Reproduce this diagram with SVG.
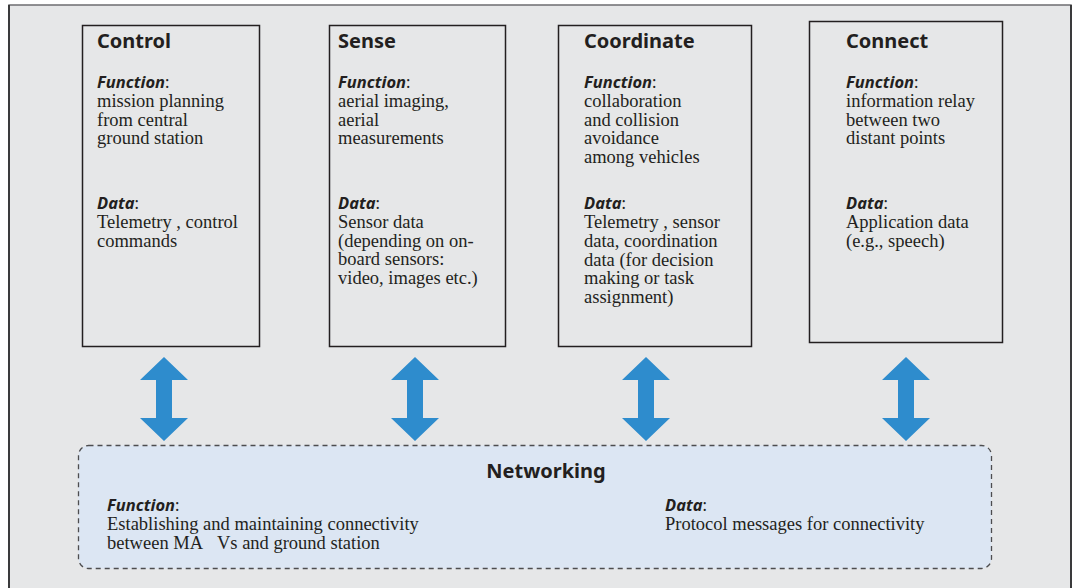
<svg xmlns="http://www.w3.org/2000/svg" width="1075" height="588" viewBox="0 0 1075 588">
<defs>
<style>
.box{fill:none;stroke:#231f20;stroke-width:1.5}
.title{font-family:"Noto Sans","Open Sans",sans-serif;font-weight:700;font-size:20px;fill:#231f20}
.lab{font-family:"Noto Sans","Open Sans",sans-serif;font-weight:700;font-style:italic;font-size:16.5px;fill:#231f20}
.lab tspan.c{font-weight:400;font-style:normal}
.body{font-family:"Liberation Serif","Times New Roman",serif;font-size:18.5px;fill:#231f20}
.arr{fill:#2e8ccd}
</style>
<path id="dbl" d="M0,0 L24,23 L8,23 L8,61 L24,61 L0,84 L-24,61 L-8,61 L-8,23 L-24,23 Z"/>
</defs>
<rect x="0" y="0" width="1075" height="588" fill="#ffffff"/>
<rect x="9" y="5" width="1062" height="590" fill="#e6e7e8" stroke="#6d6e70" stroke-width="1.5"/>
<line x1="9" y1="5" x2="9" y2="588" stroke="#3a3a3c" stroke-width="2"/>
<line x1="1071" y1="5" x2="1071" y2="588" stroke="#3a3a3c" stroke-width="2"/>

<g id="control">
<rect class="box" x="82.5" y="25.5" width="177" height="321"/>
<text class="title" x="97" y="48">Control</text>
<text class="lab" x="97" y="88">Function<tspan class="c">:</tspan></text>
<text class="body"><tspan x="97" y="107">mission planning</tspan><tspan x="97" y="126">from central</tspan><tspan x="97" y="144">ground station</tspan></text>
<text class="lab" x="97" y="209">Data<tspan class="c">:</tspan></text>
<text class="body"><tspan x="97" y="228">Telemetry , control</tspan><tspan x="97" y="247">commands</tspan></text>
</g>

<g id="sense">
<rect class="box" x="329.5" y="25.5" width="176" height="321"/>
<text class="title" x="338" y="48">Sense</text>
<text class="lab" x="338" y="88">Function<tspan class="c">:</tspan></text>
<text class="body"><tspan x="338" y="107">aerial imaging,</tspan><tspan x="338" y="126">aerial</tspan><tspan x="338" y="144">measurements</tspan></text>
<text class="lab" x="338" y="209">Data<tspan class="c">:</tspan></text>
<text class="body"><tspan x="338" y="228">Sensor data</tspan><tspan x="338" y="247">(depending on on-</tspan><tspan x="338" y="265">board sensors:</tspan><tspan x="338" y="284">video, images etc.)</tspan></text>
</g>

<g id="coordinate">
<rect class="box" x="558.5" y="25.5" width="193" height="321"/>
<text class="title" x="584" y="48">Coordinate</text>
<text class="lab" x="584" y="88">Function<tspan class="c">:</tspan></text>
<text class="body"><tspan x="584" y="107">collaboration</tspan><tspan x="584" y="126">and collision</tspan><tspan x="584" y="144">avoidance</tspan><tspan x="584" y="163">among vehicles</tspan></text>
<text class="lab" x="584" y="209">Data<tspan class="c">:</tspan></text>
<text class="body"><tspan x="584" y="228">Telemetry , sensor</tspan><tspan x="584" y="247">data, coordination</tspan><tspan x="584" y="266">data (for decision</tspan><tspan x="584" y="284">making or task</tspan><tspan x="584" y="303">assignment)</tspan></text>
</g>

<g id="connect">
<rect class="box" x="809.5" y="21.5" width="193" height="321"/>
<text class="title" x="846" y="48">Connect</text>
<text class="lab" x="846" y="88">Function<tspan class="c">:</tspan></text>
<text class="body"><tspan x="846" y="107">information relay</tspan><tspan x="846" y="126">between two</tspan><tspan x="846" y="144">distant points</tspan></text>
<text class="lab" x="846" y="209">Data<tspan class="c">:</tspan></text>
<text class="body"><tspan x="846" y="228">Application data</tspan><tspan x="846" y="247">(e.g., speech)</tspan></text>
</g>

<g id="networking">
<rect x="78.5" y="445.5" width="913" height="123" rx="10" ry="10" fill="#dce6f3" stroke="#4d4d4f" stroke-width="1.3" stroke-dasharray="5,4"/>
<text class="title" x="546" y="478" text-anchor="middle">Networking</text>
<text class="lab" x="107" y="511">Function<tspan class="c">:</tspan></text>
<text class="body"><tspan x="107" y="530">Establishing and maintaining connectivity</tspan><tspan x="107" y="549">between MA&#160;&#160;&#160;Vs and ground station</tspan></text>
<text class="lab" x="665" y="511">Data<tspan class="c">:</tspan></text>
<text class="body"><tspan x="665" y="530">Protocol messages for connectivity</tspan></text>
</g>

<g id="connectors">
<use href="#dbl" class="arr" x="164" y="357"/>
<use href="#dbl" class="arr" x="415" y="357"/>
<use href="#dbl" class="arr" x="646" y="357"/>
<use href="#dbl" class="arr" x="906" y="357"/>
</g>
</svg>
